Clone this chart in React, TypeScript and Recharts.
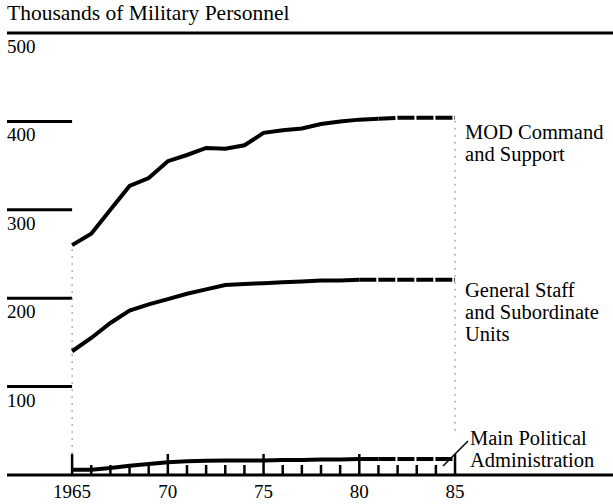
import React from 'react';
import {
  LineChart,
  Line,
  XAxis,
  YAxis,
  ReferenceLine
} from 'recharts';

const years = [1965, 1966, 1967, 1968, 1969, 1970, 1971, 1972, 1973, 1974, 1975, 1976, 1977, 1978, 1979, 1980, 1981, 1982, 1983, 1984, 1985];
const modCommand = [260, 273, 300, 327, 336, 355, 362, 370, 369, 373, 387, 390, 392, 397, 400, 402, 403, 404, 404, 404, 404];
const generalStaff = [140, 155, 172, 186, 193, 199, 205, 210, 215, 216, 217, 218, 219, 220, 220, 221, 221, 221, 221, 221, 221];
const politicalAdmin = [6, 6, 8, 10.5, 12.5, 14.5, 15.5, 16, 16.5, 16.5, 16.5, 17, 17, 17.5, 17.5, 18, 18, 18, 18, 18, 18];

// year from which each series is drawn dashed (estimate)
const modProjFrom = 1981;
const genProjFrom = 1980;
const mpaProjFrom = 1981;

const yTicks = [100, 200, 300, 400];
const majorYears = [1965, 1970, 1975, 1980, 1985];

const modLabel = ['MOD Command', 'and Support'];
const genLabel = ['General Staff', 'and Subordinate', 'Units'];
const mpaLabel = ['Main Political', 'Administration'];

const FONT = '"Liberation Serif", "Times New Roman", serif';
const X_DOMAIN = [1961.6, 1993.25];

const split = (vals: number[], from: number) =>
  years.map((yr, i) => ({ solid: yr <= from ? vals[i] : null, dash: yr >= from ? vals[i] : null }));

const modRows = split(modCommand, modProjFrom);
const genRows = split(generalStaff, genProjFrom);
const mpaRows = split(politicalAdmin, mpaProjFrom);

const data = years.map((yr, i) => ({
  year: yr,
  modSolid: modRows[i].solid,
  modDash: modRows[i].dash,
  genSolid: genRows[i].solid,
  genDash: genRows[i].dash,
  mpaSolid: mpaRows[i].solid,
  mpaDash: mpaRows[i].dash
}));

const last = years.length - 1;

const endLabel = (lines: string[], dx: number, dy: number, leader?: boolean) => (p: any) => {
  if (p.index !== last) return <g key={`d${p.index}`} />;
  return (
    <g key="endlabel">
      {leader && (
        <line x1={p.cx - 12} y1={p.cy + 7} x2={p.cx + 13} y2={p.cy - 18} stroke="#000" strokeWidth={1.5} />
      )}
      {lines.map((t, i) => (
        <text key={t} x={p.cx + dx} y={p.cy + dy + i * 22} fontFamily={FONT} fontSize={20.5} fill="#000">
          {t}
        </text>
      ))}
    </g>
  );
};

const YearTick = (props: any) => {
  const { x, y, payload } = props;
  const yr = payload.value;
  const major = majorYears.includes(yr);
  return (
    <g>
      <line x1={x} x2={x} y1={y} y2={y - (major ? 21 : 10)} stroke="#000" strokeWidth={2.5} />
      {major && (
        <text x={x} y={y + 23} textAnchor="middle" fontFamily={FONT} fontSize={19} fill="#000">
          {yr === 1965 ? '1965' : String(yr).slice(2)}
        </text>
      )}
    </g>
  );
};

const tickLabel = (v: number) => (p: any) => (
  <text x={p.viewBox.x} y={p.viewBox.y + 20} fontFamily={FONT} fontSize={19} fill="#000">
    {v}
  </text>
);

const App: React.FC = () => {
  return (
    <div style={{ position: 'absolute', left: 0, top: 0, width: 613, height: 504, background: '#fff' }}>
      <div style={{ position: 'absolute', left: 7, top: 1, fontFamily: FONT, fontSize: 21.5, color: '#000', whiteSpace: 'nowrap' }}>
        Thousands of Military Personnel
      </div>
      <LineChart width={613} height={504} data={data} margin={{ top: 33, right: 0, bottom: 0, left: 7 }}>
        <XAxis
          dataKey="year"
          type="number"
          domain={X_DOMAIN}
          ticks={years}
          interval={0}
          tickSize={0}
          tickMargin={0}
          height={29}
          tickLine={false}
          axisLine={{ stroke: '#000', strokeWidth: 3 }}
          tick={<YearTick />}
        />
        <YAxis hide domain={[0, 500]} />

        <ReferenceLine y={500} stroke="#000" strokeWidth={3} label={tickLabel(500)} />
        {yTicks.map((v) => (
          <ReferenceLine
            key={v}
            segment={[{ x: X_DOMAIN[0], y: v }, { x: years[0], y: v }]}
            stroke="#000"
            strokeWidth={3}
            label={tickLabel(v)}
          />
        ))}
        <ReferenceLine
          segment={[{ x: years[0], y: 0 }, { x: years[0], y: modCommand[0] }]}
          stroke="#888"
          strokeWidth={1}
          strokeDasharray="2 5"
        />
        <ReferenceLine
          segment={[{ x: years[last], y: 50 }, { x: years[last], y: modCommand[last] }]}
          stroke="#888"
          strokeWidth={1}
          strokeDasharray="2 5"
        />

        <Line dataKey="modSolid" stroke="#000" strokeWidth={4} dot={false} isAnimationActive={false} />
        <Line dataKey="modDash" stroke="#000" strokeWidth={4} strokeDasharray="17 2" dot={endLabel(modLabel, 10, 21)} isAnimationActive={false} />
        <Line dataKey="genSolid" stroke="#000" strokeWidth={4} dot={false} isAnimationActive={false} />
        <Line dataKey="genDash" stroke="#000" strokeWidth={4} strokeDasharray="17 2" dot={endLabel(genLabel, 10, 17)} isAnimationActive={false} />
        <Line dataKey="mpaSolid" stroke="#000" strokeWidth={4} dot={false} isAnimationActive={false} />
        <Line dataKey="mpaDash" stroke="#000" strokeWidth={4} strokeDasharray="17 2" dot={endLabel(mpaLabel, 15, -14, true)} isAnimationActive={false} />
      </LineChart>
    </div>
  );
};

export default App;
